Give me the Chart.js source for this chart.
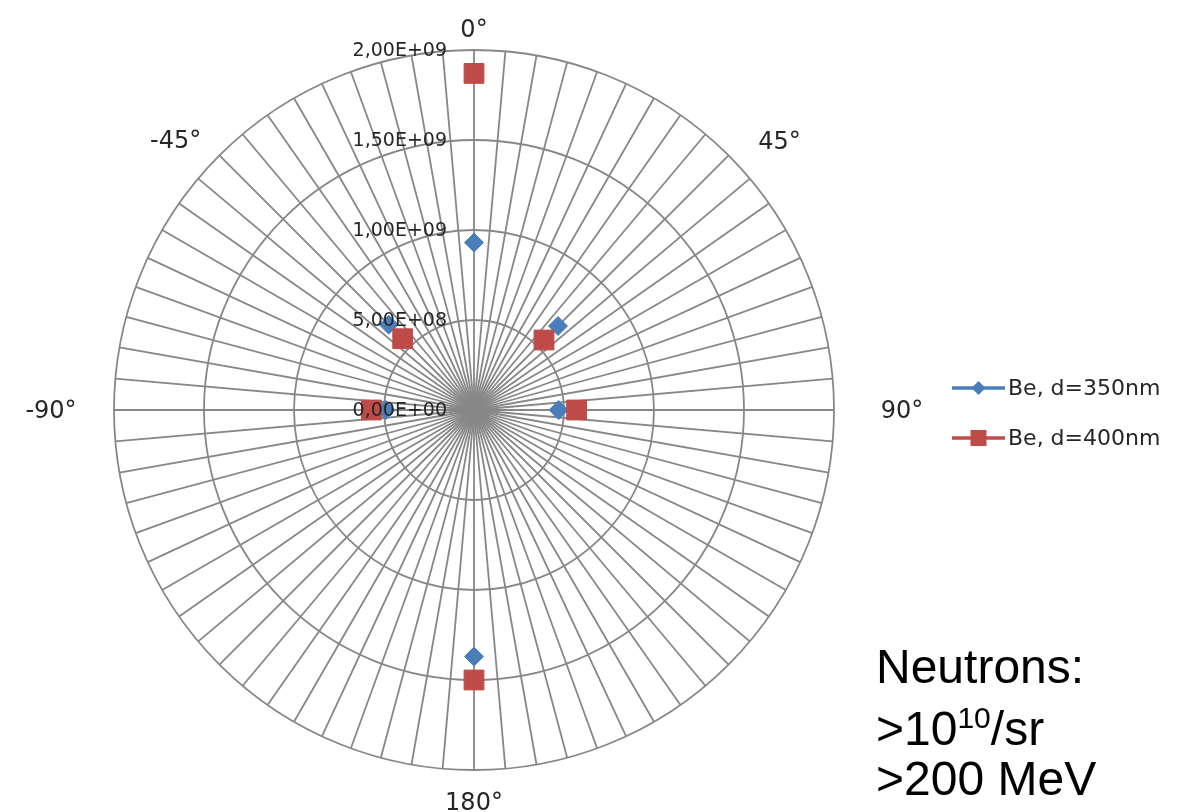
<!DOCTYPE html>
<html>
<head>
<meta charset="utf-8">
<script src="https://cdn.jsdelivr.net/npm/chart.js@4/dist/chart.umd.min.js"></script>
<style>
  body { margin: 0; background: #fff; }
  #wrap { position: relative; width: 1183px; height: 812px; }
  .note {
    position: absolute; left: 876px;
    font: 48px "Liberation Sans", Arial, sans-serif; line-height: 56px; color: #000;
    white-space: nowrap;
  }
  .note .sup { font-size: 30px; line-height: 0; position: relative; top: -17px; }
</style>
</head>
<body>
<div id="wrap">
  <canvas id="polar" width="1183" height="812"></canvas>
  <div class="note" style="top:639px">Neutrons:</div>
  <div class="note" style="top:701px">&gt;10<span class="sup">10</span>/sr</div>
  <div class="note" style="top:751px">&gt;200 MeV</div>
</div>
<script>
// angles where values were measured (degrees)
var angles = [0, 45, 90, 180, -90, -45];
var be350 = [9.3e8, 6.6e8, 4.7e8, 1.37e9, 4.9e8, 6.7e8];
var be400 = [1.87e9, 5.5e8, 5.7e8, 1.5e9, 5.7e8, 5.6e8];
var seriesNames = ["Be, d=350nm", "Be, d=400nm"];
var tickValues = [0, 5e8, 1e9, 1.5e9, 2e9];
var shownLabels = ["0°", "45°", "90°", "180°", "-90°", "-45°"];

// spokes every 5 degrees, 0..180 then -175..-5
var categories = [];
for (var a = 0; a < 360; a += 5) {
  categories.push((a <= 180 ? a : a - 360) + "°");
}

function toSeries(values) {
  var out = categories.map(function() { return null; });
  angles.forEach(function(ang, k) {
    out[((ang + 360) % 360) / 5] = values[k];
  });
  return out;
}

function sciLabel(v) {
  var p = Number(v).toExponential(2).split("e");
  var exp = parseInt(p[1], 10);
  var e = (exp < 0 ? "-" : "+") + (Math.abs(exp) < 10 ? "0" : "") + Math.abs(exp);
  return p[0].replace(".", ",") + "E" + e;
}

var GRID = "#878787";
var TEXT = "#262626";
var BLUE = "#4a7ebb";
var RED = "#be4b48";

// [distance past outer ring, vertical nudge] for each shown angle label
var labelPlace = {
  "0°": [21, 2], "45°": [72, 38], "90°": [68, 2],
  "180°": [32, 2], "-90°": [63, 2], "-45°": [62, 30]
};

function marker(ctx, style, x, y, r, color) {
  ctx.fillStyle = color;
  ctx.beginPath();
  if (style === "rectRot") {
    ctx.moveTo(x - r, y); ctx.lineTo(x, y - r); ctx.lineTo(x + r, y); ctx.lineTo(x, y + r);
    ctx.closePath();
  } else {
    var h = r * Math.SQRT1_2;
    ctx.rect(x - h, y - h, 2 * h, 2 * h);
  }
  ctx.fill();
}

var overlay = {
  id: "overlay",
  afterDatasetsDraw: function(chart) {
    var s = chart.scales.r, ctx = chart.ctx;
    ctx.save();

    // value labels on the 0° spoke
    ctx.font = '19px "DejaVu Sans"';
    ctx.fillStyle = TEXT;
    ctx.textAlign = "right";
    ctx.textBaseline = "middle";
    s.ticks.forEach(function(t) {
      var d = s.getDistanceFromCenterForValue(t.value);
      ctx.fillText(t.label, s.xCenter - 27, s.yCenter - d + 1);
    });

    // angle labels
    ctx.font = '24px "DejaVu Sans"';
    ctx.textAlign = "center";
    chart.data.labels.forEach(function(lab, i) {
      if (shownLabels.indexOf(lab) < 0) return;
      var pl = labelPlace[lab];
      var p = s.getPointPosition(i, s.drawingArea + pl[0]);
      ctx.fillText(lab, p.x, p.y + pl[1]);
    });

    // legend: line with marker
    var rows = [388, 438];
    chart.data.datasets.forEach(function(ds, k) {
      var y = rows[k];
      ctx.strokeStyle = ds.borderColor;
      ctx.lineWidth = 3.5;
      ctx.beginPath();
      ctx.moveTo(952, y); ctx.lineTo(1005, y);
      ctx.stroke();
      marker(ctx, ds.pointStyle, 978.5, y, ds.pointStyle === "rectRot" ? 7 : 11.3, ds.backgroundColor);
      ctx.font = '22px "DejaVu Sans"';
      ctx.fillStyle = TEXT;
      ctx.textAlign = "left";
      ctx.fillText(ds.label, 1008, y + 1);
    });

    ctx.restore();
  }
};

new Chart(document.getElementById("polar"), {
  type: "radar",
  data: {
    labels: categories,
    datasets: [{
      label: seriesNames[0],
      data: toSeries(be350),
      pointStyle: "rectRot",
      pointRadius: 9.5,
      pointBorderWidth: 1,
      backgroundColor: BLUE,
      borderColor: BLUE,
      showLine: false,
      order: 1
    }, {
      label: seriesNames[1],
      data: toSeries(be400),
      pointStyle: "rect",
      pointRadius: 14,
      pointBorderWidth: 1,
      backgroundColor: RED,
      borderColor: RED,
      showLine: false,
      order: 0
    }]
  },
  options: {
    responsive: false,
    animation: false,
    layout: { padding: { left: 114, top: 50, right: 349, bottom: 42 } },
    plugins: {
      legend: { display: false },
      tooltip: { enabled: false }
    },
    scales: {
      r: {
        min: tickValues[0],
        max: tickValues[tickValues.length - 1],
        ticks: { stepSize: tickValues[1] - tickValues[0], display: false, callback: sciLabel },
        pointLabels: { display: false },
        grid: { circular: true, color: GRID, lineWidth: 1.8 },
        angleLines: { color: GRID, lineWidth: 1.8 }
      }
    }
  },
  plugins: [overlay]
});
</script>
</body>
</html>
